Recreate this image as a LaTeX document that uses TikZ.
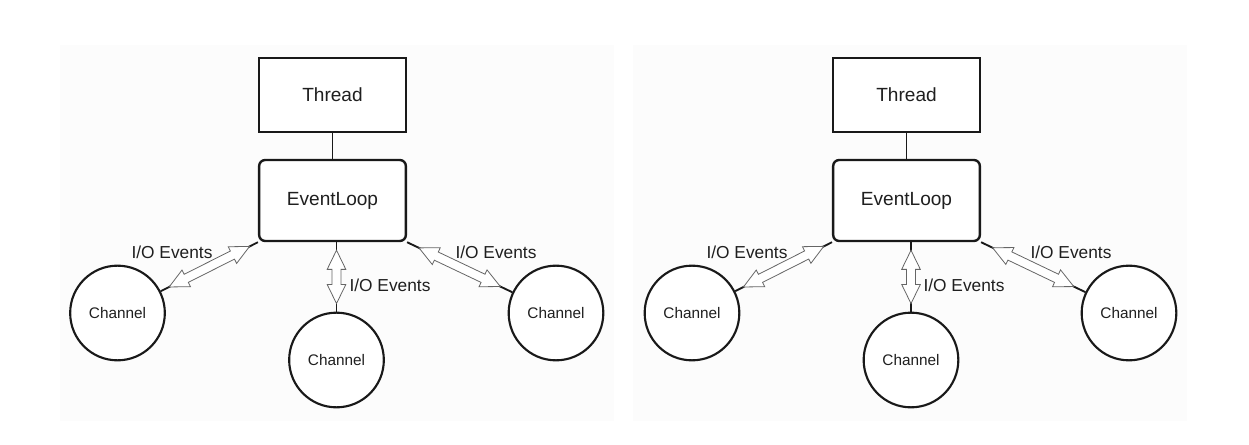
\documentclass[tikz,border=0pt]{standalone}
\usepackage{fontspec}
\setmainfont{Liberation Sans}
\usetikzlibrary{shapes.arrows}
\begin{document}
\begin{tikzpicture}[x=0.75pt,y=-0.75pt,
  panel/.style={fill=black!1, draw=none},
  threadbox/.style={draw=black!90, fill=white, line width=1.8pt, minimum width=110pt, minimum height=55.5pt, inner sep=0pt, text=black!88, font=\fontsize{14.3}{16}\selectfont},
  loopbox/.style={draw=black!90, fill=white, line width=1.8pt, rounded corners=4.5pt, minimum width=110pt, minimum height=60.75pt, inner sep=0pt, text=black!88, font=\fontsize{14.3}{16}\selectfont},
  chan/.style={circle, draw=black!90, fill=white, line width=1.6pt, minimum size=71pt, inner sep=0pt, text=black!88, font=\fontsize{11.5}{13}\selectfont},
  conn/.style={draw=black!90, line width=1.4pt},
  arr/.style={double arrow, draw=black!60, fill=white, line width=0.6pt, inner xsep=0pt, inner ysep=3.1pt, double arrow head extend=3.6pt, double arrow tip angle=52, minimum width=0pt, minimum height=#1, sloped, pos=0.5, anchor=center},
  lbl/.style={text=black!88, inner sep=0pt, font=\fontsize{13}{15}\selectfont}]
\useasboundingbox (0,0) rectangle (1249,445);
\fill[white] (0,0) rectangle (1249,445);
\path[panel] (60,45) rectangle (614,421);
\path[panel] (633,45) rectangle (1187,421);

% left diagram
\node[threadbox] (t1) at (332.5,95) {Thread};
\node[loopbox] (e1) at (332.5,200.5) {EventLoop};
\node[chan] (a1) at (117.5,313) {Channel};
\node[chan] (b1) at (336.5,360) {Channel};
\node[chan] (c1) at (556,313) {Channel};
\draw[conn] (t1.south) -- (e1.north);
\draw[conn] (e1.south west) -- node[arr=67.5pt]{} (a1);
\draw[conn] (b1.north |- e1.south) -- node[arr=40pt]{} (b1.north);
\draw[conn] (e1.south east) -- node[arr=67.5pt]{} (c1);
\node[lbl] (la1) at (172,252) {I/O Events};
\node[lbl] (lb1) at (390,285) {I/O Events};
\node[lbl] (lc1) at (496,252) {I/O Events};

% right diagram
\node[threadbox] (t2) at (906.5,95) {Thread};
\node[loopbox] (e2) at (906.5,200.5) {EventLoop};
\node[chan] (a2) at (692,313) {Channel};
\node[chan] (b2) at (911,360) {Channel};
\node[chan] (c2) at (1129,313) {Channel};
\draw[conn] (t2.south) -- (e2.north);
\draw[conn] (e2.south west) -- node[arr=67.5pt]{} (a2);
\draw[conn] (b2.north |- e2.south) -- node[arr=40pt]{} (b2.north);
\draw[conn] (e2.south east) -- node[arr=67.5pt]{} (c2);
\node[lbl] (la2) at (747,252) {I/O Events};
\node[lbl] (lb2) at (964,285) {I/O Events};
\node[lbl] (lc2) at (1071,252) {I/O Events};
\end{tikzpicture}
\end{document}
